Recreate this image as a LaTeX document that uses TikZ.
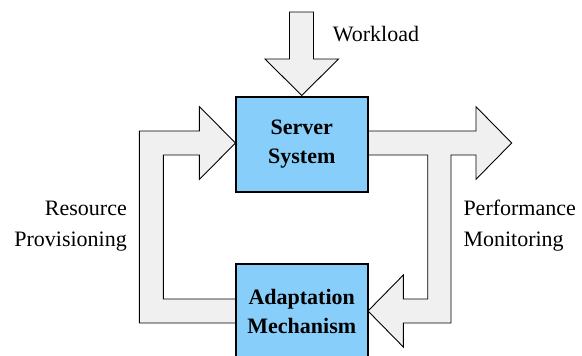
\documentclass[tikz,border=0pt]{standalone}
\usepackage{fontspec}
\setmainfont{Liberation Serif}
\newfontfamily\timesfam{Liberation Serif}
\definecolor{boxblue}{RGB}{135,206,250}
\definecolor{arrowgray}{RGB}{240,240,240}
\begin{document}
\begin{tikzpicture}[x=1pt,y=-1pt,
  block/.style={draw=black, line width=2pt, fill=boxblue,
    minimum width=131.5pt, minimum height=95pt, inner sep=0pt,
    align=center, font=\timesfam\fontsize{22}{29}\selectfont\bfseries},
  bigarrow/.style={draw=black, line width=0.9pt, fill=arrowgray, line join=miter},
  caption/.style={font=\timesfam\fontsize{22}{31.5}\selectfont, inner sep=0pt}]
\useasboundingbox (0,0) rectangle (582,356);

% block arrows (drawn first so the boxes sit on top of their ends)
% workload entering the server from above
\draw[bigarrow] (289.5,12) -- (313.5,12) -- (313.5,59) -- (338.5,59)
  -- (301.75,95.5) -- (265,59) -- (289.5,59) -- cycle;
% resource provisioning: from the adaptation mechanism back to the server
\draw[bigarrow] (237,299) -- (163.3,299) -- (163.3,155) -- (199.3,155)
  -- (199.3,179.5) -- (235.5,143) -- (199.3,106.5) -- (199.3,131)
  -- (139.3,131) -- (139.3,323) -- (237,323);
% performance monitoring: out of the server, branching down to the adaptation
\draw[bigarrow] (366.5,131) -- (476,131) -- (476,106.7) -- (511.7,143)
  -- (476,179.3) -- (476,155) -- (451,155) -- (451,323) -- (403.3,323)
  -- (403.3,347) -- (368,311) -- (403.3,275) -- (403.3,299)
  -- (427.7,299) -- (427.7,155) -- (366.5,155);

% the two blocks
\node[block] (srv) at (301.75,144) {Server\\System};
\node[block] (adp) at (301.75,311.5) {Adaptation\\Mechanism};

% captions
\node[caption, anchor=base west] (wl) at (332.7,41.7) {Workload};
\node[caption, anchor=base east] (rp1) at (127,215) {Resource};
\node[caption, anchor=base east] (rp2) at (127,246.7) {Provisioning};
\node[caption, anchor=base west] (pm1) at (463.3,215) {Performance};
\node[caption, anchor=base west] (pm2) at (463.3,246.7) {Monitoring};
\end{tikzpicture}
\end{document}
